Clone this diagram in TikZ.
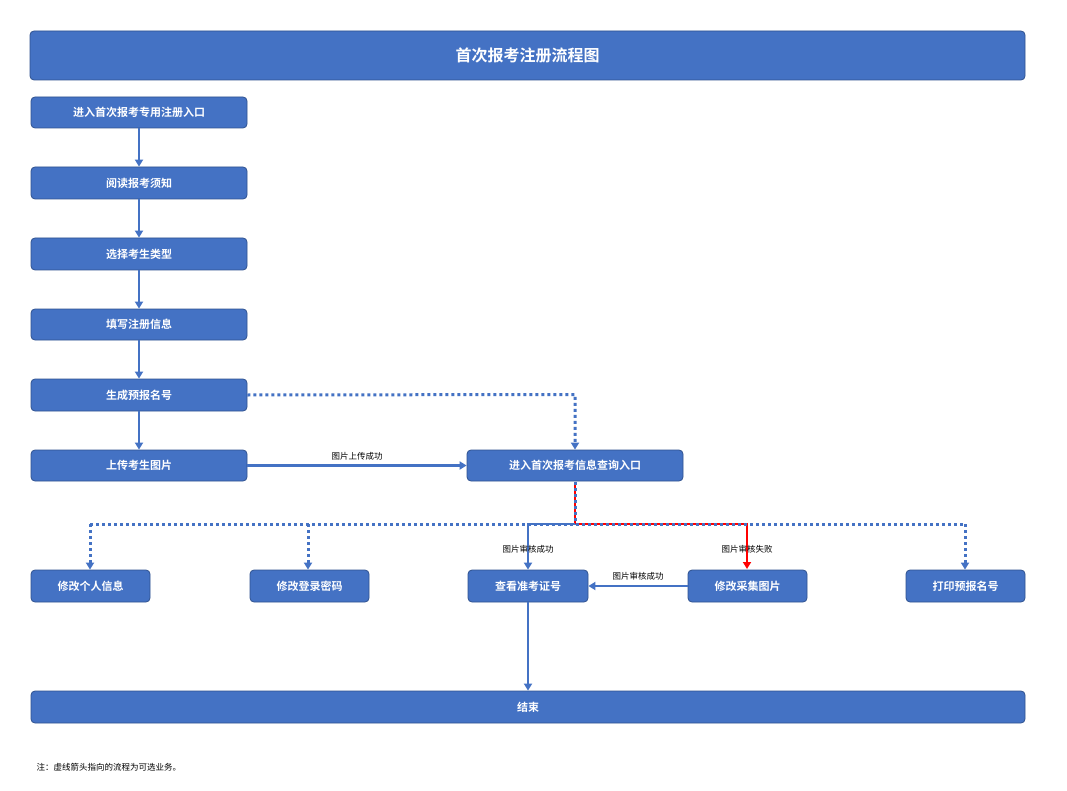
\documentclass[tikz,border=0pt]{standalone}
\usepackage{fontspec}
\newfontfamily\cjk{Noto Sans CJK SC}
\newfontfamily\cjkb{Noto Sans CJK SC Bold}
\usetikzlibrary{arrows.meta}
\definecolor{bx}{HTML}{4472C4}
\definecolor{bd}{HTML}{2F528F}
\begin{document}
\begin{tikzpicture}[x=1pt,y=-1pt,
  box/.style={draw=bd,fill=bx,rounded corners=4pt,line width=0.8pt,text=white,font=\cjkb\fontsize{11}{13}\selectfont,inner sep=0pt},
  sol/.style={draw=bx,line width=2.5pt,-{Triangle[length=7pt,width=8pt]}},
  dot/.style={draw=bx,line width=3pt,dash pattern=on 3pt off 3pt},
  dota/.style={dot,-{Triangle[length=7pt,width=8pt]}},
  lab/.style={font=\cjk\fontsize{8.5}{10}\selectfont,text=black}]
\useasboundingbox (0,0) rectangle (1067,791);
\fill[white] (0,0) rectangle (1067,791);
\newcommand\bx[6]{\node[box,minimum width=#4-#2 pt,minimum height=#5-#3 pt] (#1) at ({(#2+#4)/2},{(#3+#5)/2}) {#6};}
\node[box,minimum width=995pt,minimum height=49pt,font=\cjkb\fontsize{16}{18}\selectfont] (t) at (527.5,55.5) {首次报考注册流程图};
\bx{a}{31}{97}{247}{128}{进入首次报考专用注册入口}
\bx{b}{31}{167}{247}{199}{阅读报考须知}
\bx{c}{31}{238}{247}{270}{选择考生类型}
\bx{d}{31}{309}{247}{340}{填写注册信息}
\bx{e}{31}{379}{247}{411}{生成预报名号}
\bx{f}{31}{450}{247}{481}{上传考生图片}
\bx{q}{467}{450}{683}{481}{进入首次报考信息查询入口}
\bx{g1}{31}{570}{150}{602}{修改个人信息}
\bx{g2}{250}{570}{369}{602}{修改登录密码}
\bx{g3}{468}{570}{588}{602}{查看准考证号}
\bx{g4}{688}{570}{807}{602}{修改采集图片}
\bx{g5}{906}{570}{1025}{602}{打印预报名号}
\bx{z}{31}{691}{1025}{723}{结束}
\foreach \u/\v in {a/b,b/c,c/d,d/e,e/f} \draw[sol] (\u) -- (\v);
\draw[sol] (f) -- node[lab,above=1pt]{图片上传成功} (q);
\draw[dota] (e.east) -- (575,394.5) -- (q.north -| 575,0);
\coordinate (j) at (575,524);
\draw[red,line width=2.5pt,-{Triangle[length=7pt,width=8pt]}] (575,481.5) -- (j) -- (747,524) -- (747,569);
\draw[dot] (90,524) -- (965,524);
\draw[dot] (575,481.5) -- (j);
\draw[dota] (90,524) -- (g1.north -| 90,0);
\draw[dota] (308,524) -- (g2.north -| 308,0);
\draw[dota] (965,524) -- (g5.north -| 965,0);
\draw[sol] (j) -- (528,524) -- (g3.north -| 528,0);
\node[lab] at (528,549) {图片审核成功};
\node[lab] at (747,549) {图片审核失败};
\draw[sol] (g4) -- node[lab,above=1pt]{图片审核成功} (g3);
\draw[sol] (g3.south -| 528,0) -- (z.north -| 528,0);
\node[lab,anchor=west,font=\cjk\fontsize{8.5}{10}\selectfont] at (33,767) {注：虚线箭头指向的流程为可选业务。};
\end{tikzpicture}
\end{document}
